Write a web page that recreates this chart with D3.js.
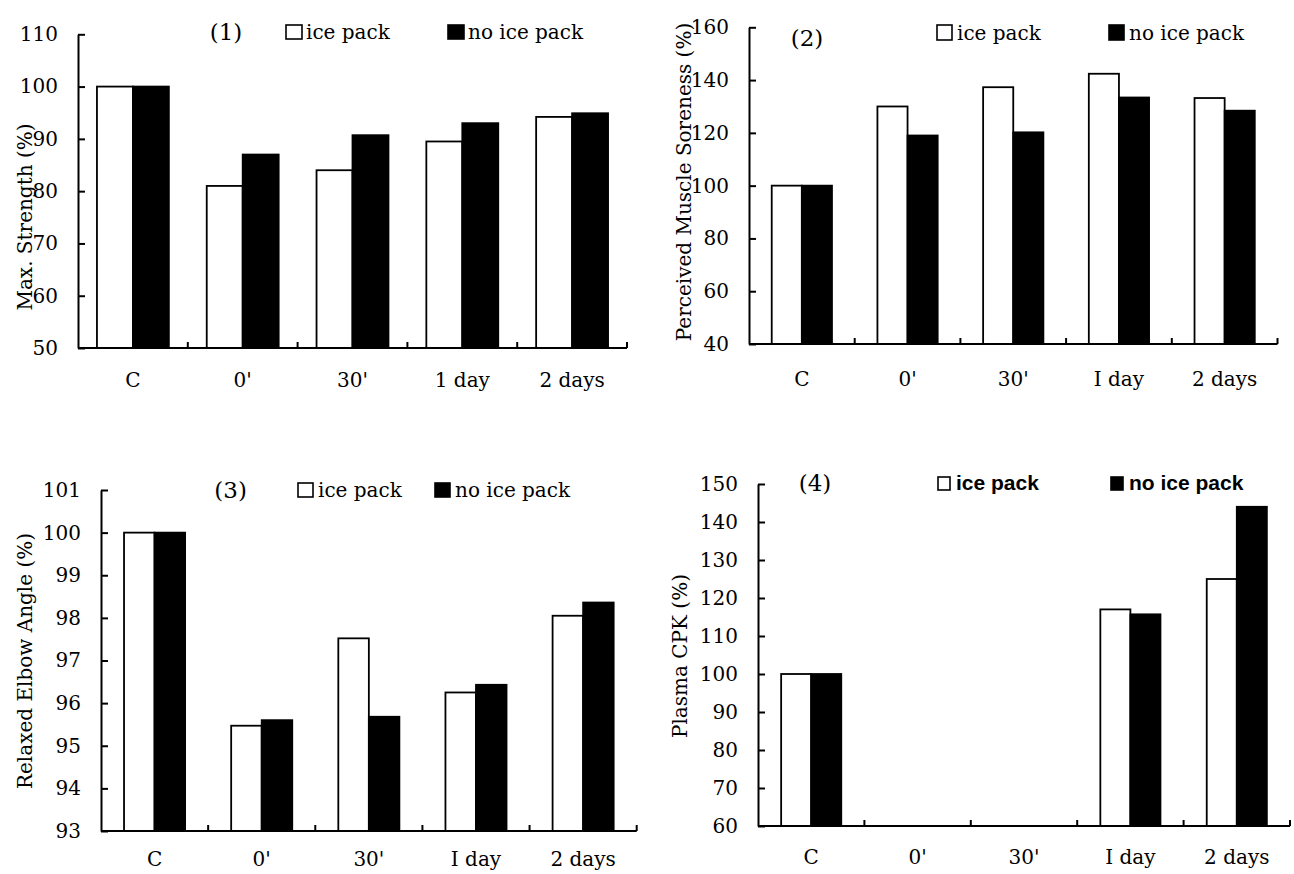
<!DOCTYPE html>
<html>
<head>
<meta charset="utf-8">
<script src="https://cdn.jsdelivr.net/npm/d3@7"></script>
<style>
  body { margin: 0; background: #fff; }
  svg { display: block; }
  .serif { font-family: "DejaVu Serif", serif; }
  .sans { font-family: "Liberation Sans", Arial, sans-serif; }
</style>
</head>
<body>
<svg id="chart" width="1294" height="874"></svg>
<script>
// categories (x axis)
const categoriesA = ["C", "0'", "30'", "1 day", "2 days"];
const categoriesB = ["C", "0'", "30'", "I day", "2 days"];
const seriesNames = ["ice pack", "no ice pack"];

// (1) max strength
const strengthIce   = [100, 81, 84, 89.5, 94.2];
const strengthNoIce = [100, 87, 90.7, 93, 94.9];
const strengthTicks = [50, 60, 70, 80, 90, 100, 110];

// (2) perceived muscle soreness
const sorenessIce   = [100, 130, 137.3, 142.4, 133.2];
const sorenessNoIce = [100, 119, 120.2, 133.4, 128.4];
const sorenessTicks = [40, 60, 80, 100, 120, 140, 160];

// (3) relaxed elbow angle
const elbowIce   = [100, 95.47, 97.52, 96.25, 98.05];
const elbowNoIce = [100, 95.6, 95.68, 96.43, 98.36];
const elbowTicks = [93, 94, 95, 96, 97, 98, 99, 100, 101];

// (4) plasma CPK (no data at 0' and 30')
const cpkIce   = [100, null, null, 117, 125];
const cpkNoIce = [100, null, null, 115.7, 144];
const cpkTicks = [60, 70, 80, 90, 100, 110, 120, 130, 140, 150];

const svg = d3.select("#chart");

// layout of each panel
const panels = [
  { tag: "(1)", title: "Max. Strength (%)", cats: categoriesA, ice: strengthIce, noIce: strengthNoIce, ticks: strengthTicks,
    left: 78, right: 627, top: 34.3, bottom: 348, group: 0.655,
    tagX: 226, tagY: 32, titleX: 24.5, titleY: 217, labelY: 387,
    legend: { font: "serif", size: 20, y: 25, h: 14, boxes: [286, 448], w: 16, gap: 4 } },
  { tag: "(2)", title: "Perceived Muscle Soreness (%)", cats: categoriesB, ice: sorenessIce, noIce: sorenessNoIce, ticks: sorenessTicks,
    left: 749, right: 1277.5, top: 27.3, bottom: 344, group: 0.57,
    tagX: 807, tagY: 38, titleX: 684, titleY: 182, labelY: 386,
    legend: { font: "serif", size: 20, y: 25, h: 15, boxes: [937, 1109], w: 15, gap: 5 } },
  { tag: "(3)", title: "Relaxed Elbow Angle (%)", cats: categoriesB, ice: elbowIce, noIce: elbowNoIce, ticks: elbowTicks,
    left: 101, right: 636.7, top: 490, bottom: 831, group: 0.57,
    tagX: 230.6, tagY: 490, titleX: 24.5, titleY: 661, labelY: 866,
    legend: { font: "serif", size: 20, y: 483, h: 14, boxes: [298, 435], w: 15, gap: 5 } },
  { tag: "(4)", title: "Plasma CPK (%)", cats: categoriesB, ice: cpkIce, noIce: cpkNoIce, ticks: cpkTicks,
    left: 758, right: 1290, top: 484, bottom: 826, group: 0.565,
    tagX: 815, tagY: 483, titleX: 680, titleY: 656, labelY: 864,
    legend: { font: "sans", size: 21, y: 477, h: 13, boxes: [938, 1111], w: 12, gap: 6 } }
];

panels.forEach(drawPanel);

function drawPanel(p) {
  const g = svg.append("g");
  const ext = d3.extent(p.ticks);

  const x = d3.scaleBand().domain(p.cats).range([p.left, p.right]).paddingInner(0).paddingOuter(0);
  const pad = (1 - p.group) / 2;
  const xs = d3.scaleBand().domain(seriesNames)
    .range([x.bandwidth() * pad, x.bandwidth() * (1 - pad)]);
  const y = d3.scaleLinear().domain(ext).range([p.bottom, p.top]);

  const rows = p.cats.map((c, i) => ({ cat: c, vals: [p.ice[i], p.noIce[i]] }));

  // bars
  g.selectAll("g.cat")
    .data(rows).enter().append("g")
    .attr("class", "cat")
    .attr("transform", d => `translate(${x(d.cat)},0)`)
    .selectAll("rect")
    .data(d => d.vals.map((v, j) => ({ name: seriesNames[j], v: v })).filter(e => e.v != null))
    .enter().append("rect")
    .attr("x", e => xs(e.name))
    .attr("width", xs.bandwidth())
    .attr("y", e => y(e.v))
    .attr("height", e => y(ext[0]) - y(e.v))
    .attr("fill", e => e.name === "ice pack" ? "#fff" : "#000")
    .attr("stroke", "#000")
    .attr("stroke-width", 1.8);

  // y axis, ticks pointing inward
  const yAxis = g.append("g")
    .attr("transform", `translate(${p.left},0)`)
    .call(d3.axisLeft(y).tickValues(p.ticks).tickSize(-7).tickSizeOuter(0).tickPadding(20));
  yAxis.attr("font-family", null).attr("font-size", null);
  yAxis.select(".domain").attr("stroke-width", 2);
  yAxis.selectAll(".tick line").attr("stroke-width", 2);
  yAxis.selectAll("text")
    .attr("class", "serif")
    .style("font-size", "20px")
    .attr("fill", "#000");

  // x axis line with boundary ticks
  g.append("line")
    .attr("x1", p.left).attr("x2", p.right)
    .attr("y1", p.bottom).attr("y2", p.bottom)
    .attr("stroke", "#000").attr("stroke-width", 2);
  g.selectAll("line.bound")
    .data(p.cats.slice(1).map(c => x(c)).concat([p.right]))
    .enter().append("line")
    .attr("class", "bound")
    .attr("x1", d => d).attr("x2", d => d)
    .attr("y1", p.bottom).attr("y2", p.bottom - 6)
    .attr("stroke", "#000").attr("stroke-width", 2);

  // category labels
  const xAxis = g.append("g")
    .attr("transform", `translate(0,${p.labelY})`)
    .call(d3.axisBottom(x).tickSize(0).tickPadding(0));
  xAxis.attr("font-family", null).attr("font-size", null);
  xAxis.select(".domain").remove();
  xAxis.selectAll("text")
    .attr("class", "serif")
    .attr("dy", 0)
    .style("font-size", "20px")
    .attr("fill", "#000");

  // y title
  g.append("text")
    .attr("class", "serif")
    .attr("transform", `translate(${p.titleX},${p.titleY}) rotate(-90)`)
    .attr("text-anchor", "middle")
    .attr("dy", "0.35em")
    .style("font-size", "20px")
    .text(p.title);

  // panel tag
  g.append("text")
    .attr("class", "serif")
    .attr("x", p.tagX).attr("y", p.tagY)
    .attr("text-anchor", "middle")
    .attr("dy", "0.35em")
    .style("font-size", "23px")
    .text(p.tag);

  // legend
  const lg = p.legend;
  seriesNames.forEach((name, j) => {
    const bx = lg.boxes[j];
    g.append("rect")
      .attr("x", bx).attr("y", lg.y)
      .attr("width", lg.w).attr("height", lg.h)
      .attr("fill", name === "ice pack" ? "#fff" : "#000")
      .attr("stroke", "#000").attr("stroke-width", 1.6);
    g.append("text")
      .attr("class", lg.font)
      .attr("x", bx + lg.w + lg.gap)
      .attr("y", lg.y + lg.h)
      .style("font-size", lg.size + "px")
      .style("font-weight", lg.font === "sans" ? "bold" : "normal")
      .text(name);
  });
}
</script>
</body>
</html>
